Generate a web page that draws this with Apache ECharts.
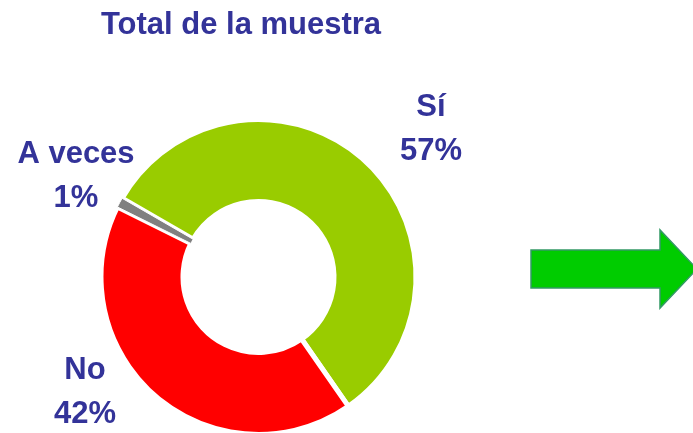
<!DOCTYPE html>
<html>
<head>
<meta charset="utf-8">
<script src="https://cdn.jsdelivr.net/npm/echarts@6/dist/echarts.min.js"></script>
<style>
  html, body { margin: 0; padding: 0; background: #ffffff; }
  #chart { width: 693px; height: 433px; }
</style>
</head>
<body>
<div id="chart"></div>
<script>
// Survey answers, share of the whole sample (%)
const categories = ['Sí', 'No', 'A veces'];
const shares = [57, 42, 1];
const sliceColors = ['#99CC00', '#FF0000', '#808080'];
// White separator width around each slice (the thin one keeps a slim edge)
const sliceBorders = [5, 5, 1];

// Where each answer's label block sits (centre of the two lines)
const labelSpots = [[431, 129], [85, 392], [76, 176]];

const ink = '#333399';
const chart = echarts.init(document.getElementById('chart'), null, { renderer: 'canvas' });

chart.setOption({
  animation: false,
  backgroundColor: '#ffffff',
  title: {
    text: 'Total de la muestra',
    left: 236,
    top: 5,
    textAlign: 'center',
    textStyle: {
      fontFamily: 'Liberation Sans, Arial, sans-serif',
      fontSize: 31,
      fontWeight: 'bold',
      color: ink
    }
  },
  series: [{
    type: 'pie',
    center: [258.5, 277],
    radius: [75.5, 157.5],
    startAngle: 150,
    clockwise: true,
    avoidLabelOverlap: false,
    label: {
      show: true,
      position: 'outside',
      formatter: '{b}\n{c}%',
      fontFamily: 'Liberation Sans, Arial, sans-serif',
      fontSize: 31,
      fontWeight: 'bold',
      lineHeight: 44,
      color: ink,
      align: 'center'
    },
    labelLine: { show: false },
    labelLayout: function (p) {
      const s = labelSpots[p.dataIndex];
      return { x: s[0], y: s[1], align: 'center', verticalAlign: 'middle' };
    },
    data: categories.map((name, i) => ({
      name: name,
      value: shares[i],
      itemStyle: {
        color: sliceColors[i],
        borderColor: '#ffffff',
        borderWidth: sliceBorders[i]
      }
    }))
  }],
  graphic: [{
    type: 'polygon',
    shape: {
      points: [[531, 250], [660, 250], [660, 230], [697, 269], [660, 308], [660, 288], [531, 288]]
    },
    style: { fill: '#00CC00', stroke: '#339966', lineWidth: 1.5 }
  }]
});
</script>
</body>
</html>
